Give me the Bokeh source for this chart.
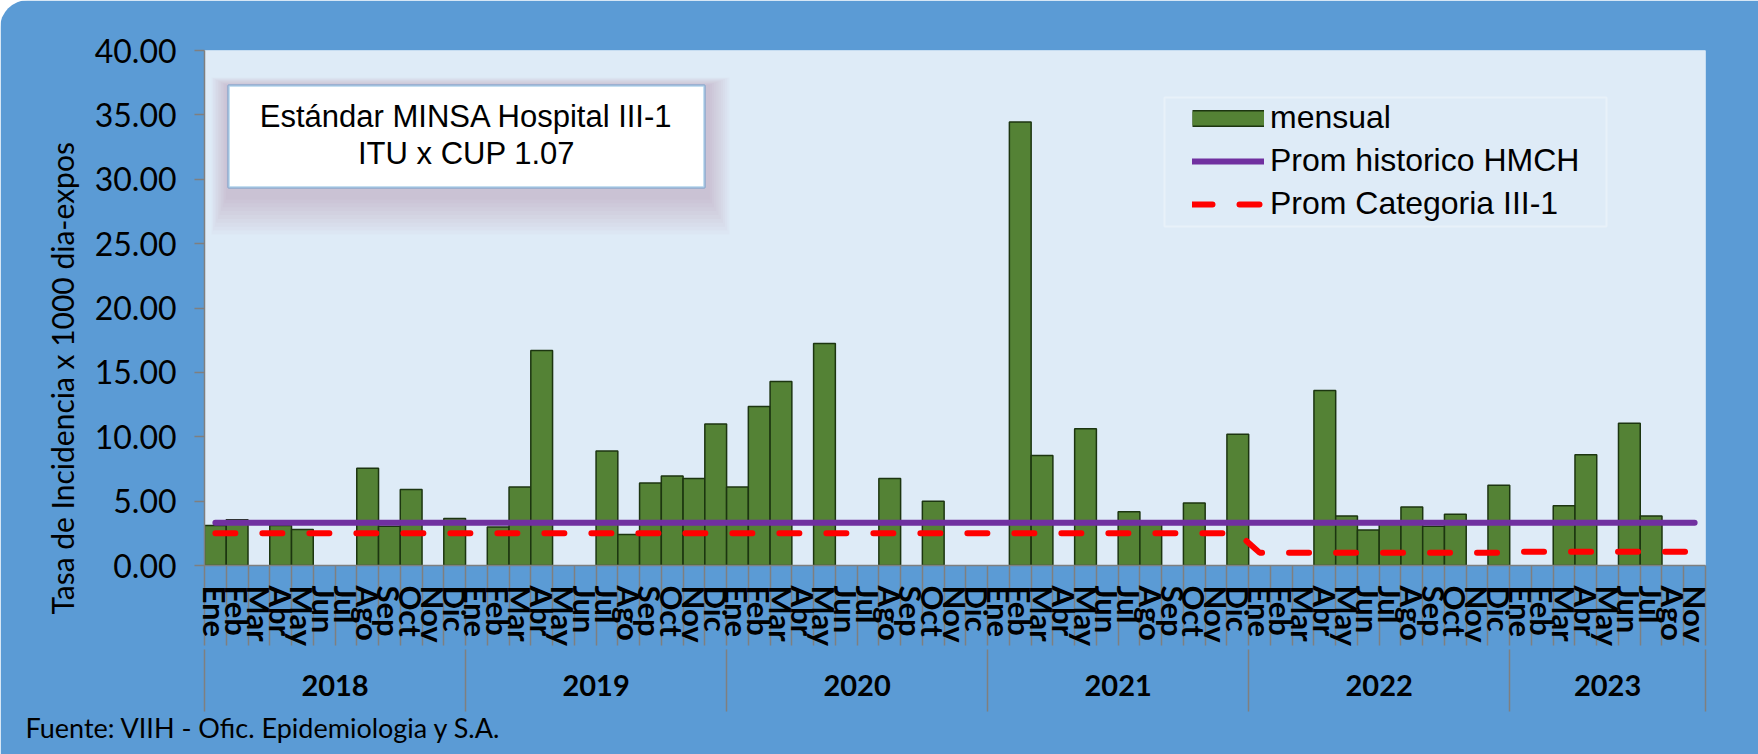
import math
from bokeh.plotting import figure
from bokeh.models import (Range1d, LinearAxis, FixedTicker, PrintfTickFormatter, Label,
                          BoxAnnotation, Legend, LegendItem, Title)
from bokeh.embed import file_html
from bokeh.resources import INLINE

# ---------------- data ----------------
anios = ["2018", "2019", "2020", "2021", "2022", "2023"]
meses = ["Ene", "Feb", "Mar", "Abr", "May", "Jun", "Jul", "Ago", "Sep", "Oct", "Nov", "Dic"]
meses_2023 = ["Ene", "Feb", "Mar", "Abr", "May", "Jun", "Jul", "Ago", "Nov"]

tasa_2018 = [3.10, 3.55, 0, 3.10, 2.80, 0, 0, 7.55, 3.05, 5.90, 0, 3.65]
tasa_2019 = [0, 3.00, 6.10, 16.70, 0, 0, 8.90, 2.40, 6.40, 6.95, 6.75, 11.00]
tasa_2020 = [6.10, 12.35, 14.30, 0, 17.25, 0, 0, 6.75, 0, 5.00, 0, 0]
tasa_2021 = [0, 34.45, 8.55, 0, 10.62, 0, 4.18, 3.30, 0, 4.85, 0, 10.20]
tasa_2022 = [0, 0, 0, 13.60, 3.85, 2.75, 3.30, 4.55, 3.05, 3.98, 0, 6.24]
tasa_2023 = [0, 0, 4.65, 8.60, 0, 11.05, 3.85, 0, 0]

prom_historico = 3.32
prom_categoria_anual = [2.50, 2.50, 2.50, 2.50, 1.00, 1.07]

y_ticks = [0, 5, 10, 15, 20, 25, 30, 35, 40]

fuente = "Fuente: VIIH - Ofic. Epidemiologia y S.A."
estandar = ["Estándar MINSA Hospital III-1", "ITU x CUP 1.07"]
y_titulo = "Tasa de Incidencia x 1000 dia-expos"

# ---------------- derived tables ----------------
meses_por_anio = [meses, meses, meses, meses, meses, meses_2023]
tasas_por_anio = [tasa_2018, tasa_2019, tasa_2020, tasa_2021, tasa_2022, tasa_2023]

etiquetas = []
tasas = []
cat_vals = []
for ms, ts, pc in zip(meses_por_anio, tasas_por_anio, prom_categoria_anual):
    etiquetas += ms
    tasas += ts
    cat_vals += [pc] * len(ms)
N = len(etiquetas)
idx = list(range(N))
hist_vals = [prom_historico] * N
bar_x = [i for i in idx if tasas[i] > 0]
bar_top = [tasas[i] for i in bar_x]

bounds = [-0.5]
for ms in meses_por_anio:
    bounds.append(bounds[-1] + len(ms))
centers = [(a + b) / 2 for a, b in zip(bounds[:-1], bounds[1:])]

# ---------------- layout (page pixels) ----------------
FIG_W, FIG_H = 1758, 754
FL, FR, FT, FB = 204, 1705, 50, 565
XU = (FR - FL) / N
YU = (FB - FT) / 40.0


def dx(px):
    return -0.5 + (px - FL) / XU


def dy(py):
    return (FB - py) / YU


p = figure(width=FIG_W, height=FIG_H, x_range=Range1d(-0.5, N - 0.5), y_range=Range1d(0, 40),
           output_backend="svg", toolbar_location=None, x_axis_type=None, y_axis_type=None,
           min_border_left=FL, min_border_right=FIG_W - FR, min_border_top=FT,
           min_border_bottom=FIG_H - FB)
p.border_fill_color = "#5b9bd5"
p.background_fill_color = "#deebf7"
p.outline_line_color = None
p.styles = {"border-radius": "28px 0 0 0", "overflow": "hidden"}

GRAY = "#7f7f7f"

# y axis
yaxis = LinearAxis(ticker=FixedTicker(ticks=y_ticks), formatter=PrintfTickFormatter(format="%.2f"))
yaxis.axis_line_color = GRAY
yaxis.axis_line_width = 1.5
yaxis.major_tick_line_color = GRAY
yaxis.major_tick_line_width = 1.5
yaxis.major_tick_out = 10
yaxis.major_tick_in = 0
yaxis.minor_tick_line_color = None
yaxis.major_label_standoff = 18
yaxis.major_label_text_font = "Lato"
yaxis.major_label_text_font_size = "32px"
yaxis.major_label_text_color = "#000000"
p.add_layout(yaxis, "left")
p.add_layout(Title(text=y_titulo, align="left", offset=-49, standoff=23, text_font="Lato",
                   text_font_size="30px", text_font_style="normal", text_color="#000000"),
             "left")

# x axis 1: months, with month separators as minor ticks
xaxis = LinearAxis(ticker=FixedTicker(ticks=idx, minor_ticks=[i - 0.5 for i in range(N + 1)]))
xaxis.major_label_overrides = {i: etiquetas[i] for i in idx}
xaxis.major_label_orientation = "vertical"
xaxis.major_label_text_font = "Lato"
xaxis.major_label_text_font_style = "bold"
xaxis.major_label_text_font_size = "31px"
xaxis.major_label_text_color = "#000000"
xaxis.major_label_standoff = -60
xaxis.major_tick_line_color = None
xaxis.major_tick_out = 0
xaxis.major_tick_in = 0
xaxis.minor_tick_out = 80
xaxis.minor_tick_in = 0
xaxis.minor_tick_line_color = GRAY
xaxis.minor_tick_line_width = 1.5
xaxis.axis_line_color = GRAY
xaxis.axis_line_width = 1.5
p.add_layout(xaxis, "below")

# x axis 2: years, with year separators as minor ticks
yr_axis = LinearAxis(ticker=FixedTicker(ticks=centers, minor_ticks=bounds))
yr_axis.major_label_overrides = {c: a for c, a in zip(centers, anios)}
yr_axis.major_label_text_font = "Lato"
yr_axis.major_label_text_font_style = "bold"
yr_axis.major_label_text_font_size = "29px"
yr_axis.major_label_text_color = "#000000"
yr_axis.major_label_standoff = -37
yr_axis.major_tick_line_color = None
yr_axis.major_tick_out = 0
yr_axis.major_tick_in = 0
yr_axis.minor_tick_out = 62
yr_axis.minor_tick_in = 0
yr_axis.minor_tick_line_color = GRAY
yr_axis.minor_tick_line_width = 1.5
yr_axis.axis_line_color = None
p.add_layout(yr_axis, "below")

p.add_layout(Title(text=fuente, align="left", offset=25 - FL, standoff=20, text_font="Lato",
                   text_font_size="27px", text_font_style="normal", text_color="#000000"),
             "below")

# bars and lines
p.vbar(x=bar_x, top=bar_top, width=1.0, bottom=0, fill_color="#548235",
       line_color="#1c3510", line_width=1.5)
r_hist = p.line(idx, hist_vals, line_color="#7030a0", line_width=6, line_cap="round")
r_cat = p.line(idx, cat_vals, line_color="#ff0000", line_width=6, line_dash="20 27",
               line_cap="round")

# legend (swatch for bars drawn by two thick line renderers without visible data)
nan = float("nan")
r_sw_out = p.line([nan], [nan], line_color="#1c3510", line_width=17)
r_sw_in = p.line([nan], [nan], line_color="#548235", line_width=14)
legend = Legend(items=[LegendItem(label="mensual", renderers=[r_sw_out, r_sw_in]),
                       LegendItem(label="Prom historico HMCH", renderers=[r_hist]),
                       LegendItem(label="Prom Categoria III-1", renderers=[r_cat])],
                location=(1192 - FL, FB - 222), orientation="vertical", padding=0, margin=0,
                spacing=6, glyph_width=72, glyph_height=36, label_height=36, label_standoff=6,
                label_text_font="Liberation Sans", label_text_font_size="32px",
                label_text_color="#000000", background_fill_alpha=0, border_line_color=None)
p.add_layout(legend)
p.add_layout(BoxAnnotation(left=dx(1164), right=dx(1606), top=dy(97), bottom=dy(226),
                           fill_alpha=0, line_color="white", line_width=2))

# annotation box with soft shadow
bx0, bx1, by0, by1 = 228, 704, 85, 187
layers = 10
for k in range(layers, 0, -1):
    f = k / layers
    p.add_layout(BoxAnnotation(left=dx(bx0 - 1 - 16 * f), right=dx(bx1 + 3 + 22 * f),
                               top=dy(by0 - 8 * f), bottom=dy(by1 + 8 + 39 * f),
                               fill_color="#a07890", fill_alpha=0.035, line_color=None))
p.add_layout(BoxAnnotation(left=dx(bx0), right=dx(bx1), top=dy(by0), bottom=dy(by1),
                           fill_color="white", fill_alpha=1, line_color="#0070c0", line_width=2.5))
for txt, yy in zip(estandar, [116, 153]):
    p.add_layout(Label(x=dx((bx0 + bx1) / 2), y=dy(yy), text=txt, text_align="center",
                       text_baseline="middle", text_font="Liberation Sans",
                       text_font_size="31px", text_color="#000000"))

open("out.html", "w").write(file_html(p, INLINE))
